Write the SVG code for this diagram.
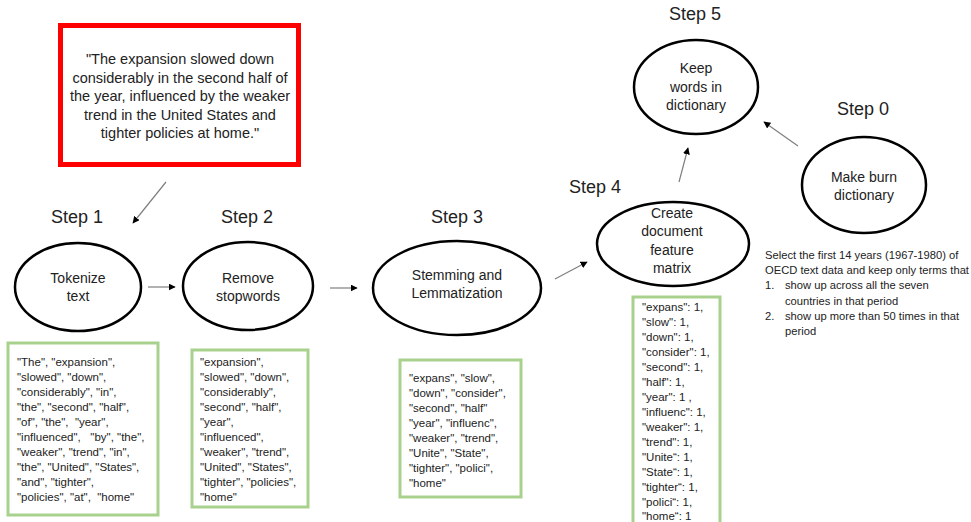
<svg xmlns="http://www.w3.org/2000/svg" width="971" height="522" viewBox="0 0 971 522">
<defs>
<marker id="ah" viewBox="0 0 10 10" refX="9" refY="5" markerWidth="7" markerHeight="7" orient="auto" markerUnits="userSpaceOnUse">
<path d="M0,0 L10,5 L0,10 z" fill="#000"/>
</marker>
</defs>
<style>
text{font-family:"Liberation Sans",Arial,sans-serif;fill:#222}
.step{font-size:18px;text-anchor:middle}
.lbl{font-size:14px;text-anchor:middle}
.q{font-size:14.5px;text-anchor:middle}
.box{font-size:11.5px;white-space:pre}
.note{font-size:11.2px}
.ell{fill:#fff;stroke:#000;stroke-width:2.5}
.gbox{fill:#fff;stroke:#A9D18E;stroke-width:3}
.conn line{stroke:#7f7f7f;stroke-width:1.2;marker-end:url(#ah)}
</style>
<rect width="971" height="522" fill="#fff"/>

<g id="quote">
<rect x="60.5" y="25.5" width="238" height="139" fill="#fff" stroke="#FF0000" stroke-width="5"/>
<text class="q" x="180" y="64">"The expansion slowed down</text>
<text class="q" x="180" y="82.5">considerably in the second half of</text>
<text class="q" x="180" y="101">the year, influenced by the weaker</text>
<text class="q" x="180" y="119.5">trend in the United States and</text>
<text class="q" x="180" y="138">tighter policies at home."</text>
</g>

<g id="step1">
<text class="step" x="77" y="223">Step 1</text>
<ellipse class="ell" cx="78" cy="287" rx="63" ry="44"/>
<text class="lbl" x="78" y="283">Tokenize</text>
<text class="lbl" x="78" y="301">text</text>
</g>

<g id="step2">
<text class="step" x="247" y="223">Step 2</text>
<ellipse class="ell" cx="248" cy="286" rx="65" ry="44"/>
<text class="lbl" x="248" y="283">Remove</text>
<text class="lbl" x="248" y="301">stopwords</text>
</g>

<g id="step3">
<text class="step" x="457" y="223">Step 3</text>
<ellipse class="ell" cx="457" cy="288" rx="84" ry="47"/>
<text class="lbl" x="457" y="280">Stemming and</text>
<text class="lbl" x="457" y="298">Lemmatization</text>
</g>

<g id="step4">
<text class="step" x="595" y="193">Step 4</text>
<ellipse class="ell" cx="673" cy="244" rx="76" ry="42"/>
<text class="lbl" x="672" y="218">Create</text>
<text class="lbl" x="672" y="236">document</text>
<text class="lbl" x="672" y="255">feature</text>
<text class="lbl" x="672" y="273">matrix</text>
</g>

<g id="step5">
<text class="step" x="695" y="20">Step 5</text>
<ellipse class="ell" cx="696" cy="87" rx="62" ry="47"/>
<text class="lbl" x="696" y="73">Keep</text>
<text class="lbl" x="696" y="92">words in</text>
<text class="lbl" x="696" y="110">dictionary</text>
</g>

<g id="step0">
<text class="step" x="863" y="115">Step 0</text>
<ellipse class="ell" cx="864" cy="185" rx="62" ry="48"/>
<text class="lbl" x="864" y="182">Make burn</text>
<text class="lbl" x="864" y="200">dictionary</text>
</g>

<g id="note">
<text class="note" x="765" y="259">Select the first 14 years (1967-1980) of</text>
<text class="note" x="765" y="274">OECD text data and keep only terms that</text>
<text class="note" x="765" y="289">1.</text>
<text class="note" x="785" y="289">show up across all the seven</text>
<text class="note" x="785" y="305">countries in that period</text>
<text class="note" x="765" y="320">2.</text>
<text class="note" x="785" y="320">show up more than 50 times in that</text>
<text class="note" x="785" y="335">period</text>
</g>

<g id="tokens">
<rect class="gbox" x="8" y="343" width="150" height="172"/>
<text class="box" x="17" y="366">"The", "expansion",</text>
<text class="box" x="17" y="381">"slowed", "down",</text>
<text class="box" x="17" y="396">"considerably", "in",</text>
<text class="box" x="17" y="411">"the", "second", "half",</text>
<text class="box" x="17" y="426">"of", "the",  "year",</text>
<text class="box" x="17" y="441">"influenced",   "by", "the",</text>
<text class="box" x="17" y="456">"weaker", "trend", "in",</text>
<text class="box" x="17" y="471">"the", "United", "States",</text>
<text class="box" x="17" y="486">"and", "tighter",</text>
<text class="box" x="17" y="501">"policies", "at",  "home"</text>
</g>

<g id="nostop">
<rect class="gbox" x="192" y="350" width="116" height="157"/>
<text class="box" x="200" y="366">"expansion",</text>
<text class="box" x="200" y="381">"slowed", "down",</text>
<text class="box" x="200" y="396">"considerably",</text>
<text class="box" x="200" y="411">"second", "half",</text>
<text class="box" x="200" y="426">"year",</text>
<text class="box" x="200" y="441">"influenced",</text>
<text class="box" x="200" y="456">"weaker", "trend",</text>
<text class="box" x="200" y="471">"United", "States",</text>
<text class="box" x="200" y="486">"tighter", "policies",</text>
<text class="box" x="200" y="501">"home"</text>
</g>

<g id="stems">
<rect class="gbox" x="400" y="360" width="121" height="137"/>
<text class="box" x="409" y="382">"expans", "slow",</text>
<text class="box" x="409" y="397">"down", "consider",</text>
<text class="box" x="409" y="412">"second", "half"</text>
<text class="box" x="409" y="427">"year", "influenc",</text>
<text class="box" x="409" y="442">"weaker", "trend",</text>
<text class="box" x="409" y="457">"Unite", "State",</text>
<text class="box" x="409" y="472">"tighter", "polici",</text>
<text class="box" x="409" y="487">"home"</text>
</g>

<g id="dfm">
<rect class="gbox" x="633" y="297" width="87" height="230"/>
<text class="box" x="642" y="311">"expans": 1,</text>
<text class="box" x="642" y="326">"slow": 1,</text>
<text class="box" x="642" y="341">"down": 1,</text>
<text class="box" x="642" y="356">"consider": 1,</text>
<text class="box" x="642" y="371">"second": 1,</text>
<text class="box" x="642" y="386">"half": 1,</text>
<text class="box" x="642" y="401">"year": 1 ,</text>
<text class="box" x="642" y="416">"influenc": 1,</text>
<text class="box" x="642" y="431">"weaker": 1,</text>
<text class="box" x="642" y="446">"trend": 1,</text>
<text class="box" x="642" y="461">"Unite“: 1,</text>
<text class="box" x="642" y="476">"State“: 1,</text>
<text class="box" x="642" y="491">"tighter“: 1,</text>
<text class="box" x="642" y="506">"polici“: 1,</text>
<text class="box" x="642" y="520">"home“: 1</text>
</g>

<g id="connectors" class="conn">
<line x1="166" y1="182" x2="133" y2="223"/>
<line x1="148" y1="287" x2="175" y2="287"/>
<line x1="330" y1="288" x2="357" y2="288"/>
<line x1="555" y1="279" x2="587" y2="262"/>
<line x1="679" y1="182" x2="688" y2="148"/>
<line x1="798" y1="146" x2="764" y2="122"/>
</g>
</svg>
